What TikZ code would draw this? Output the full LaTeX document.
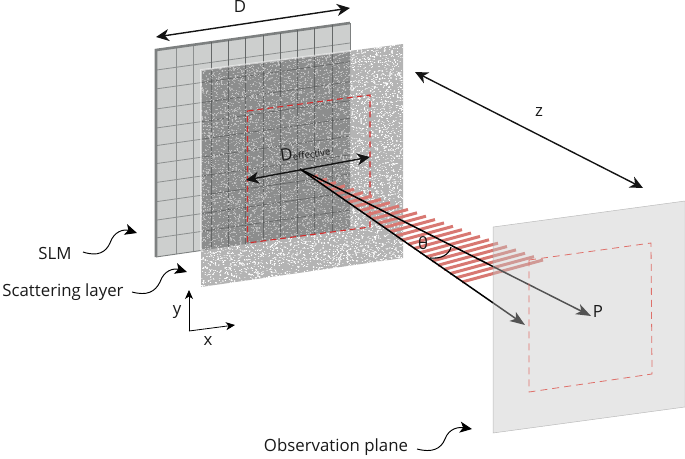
\documentclass[tikz,border=0pt]{standalone}
\usepackage{fontspec}
\setmainfont{Open Sans}
\usetikzlibrary{arrows.meta,calc}
\definecolor{slmfill}{RGB}{205,207,206}
\definecolor{slmgrid}{RGB}{140,143,143}
\definecolor{slmedge}{RGB}{125,128,128}
\definecolor{layergray}{RGB}{180,180,180}
\definecolor{overlapgray}{RGB}{140,141,141}
\definecolor{speckgray}{RGB}{200,200,200}
\definecolor{overgrid}{RGB}{70,72,72}
\definecolor{redline}{RGB}{212,42,42}
\definecolor{stripe}{RGB}{216,120,114}
\definecolor{planeedge}{RGB}{150,150,150}
\definecolor{planered}{RGB}{222,112,106}
\tikzset{
  bigarrow/.style={line width=1.4pt,black!92,{Stealth[length=13pt,width=12pt,inset=4pt]}-{Stealth[length=13pt,width=12pt,inset=4pt]}},
  rayarrow/.style={line width=1.5pt,black,-{Stealth[length=15pt,width=11pt,inset=4pt]}},
  wiggle/.style={line width=0.95pt,black,-{Stealth[length=12pt,width=11pt,inset=3pt]}},
  axisarrow/.style={line width=0.8pt,black,-{Stealth[length=9pt,width=8pt,inset=2.5pt]}},
  lbl/.style={inner sep=0pt,font=\fontsize{16.8}{19}\selectfont,text=black!90},
  reddash/.style={redline,line width=1.1pt,dash pattern=on 6pt off 4pt},
  planedash/.style={planered,line width=0.8pt,dash pattern=on 7pt off 5pt}
}
% #1 colour, #2 seed, #3 count, #4 dot size, #5 = 1: only inside the SLM overlap
\newcommand{\specklayer}[5]{%
  \begin{scope}[draw=#1,line cap=round,line width=#4]
  \pgfmathsetseed{#2}%
  \foreach \i in {1,...,#3}{%
    \pgfmathsetmacro\su{rnd}%
    \pgfmathsetmacro\sv{rnd}%
    \pgfmathsetmacro\sx{201+202*\su}%
    \pgfmathsetmacro\sy{70-26*\su+217*\sv}%
    \pgfmathtruncatemacro\keep{(#5==0 || (\sx<350 && \sy<257-0.1443*(\sx-156)))?1:0}%
    \ifnum\keep=1
      \pgfpathmoveto{\pgfpointxy{\sx}{\sy}}%
      \pgfpathlineto{\pgfpointxy{\sx+0.2}{\sy}}%
      \pgfusepath{stroke}%
    \fi
  }%
  \end{scope}%
}
\begin{document}
\begin{tikzpicture}[x=1pt,y=-1pt]
\useasboundingbox (0,0) rectangle (685,458);
% named corners
\coordinate (sTL) at (156,50); \coordinate (sTR) at (350,23);
\coordinate (sBR) at (350,229); \coordinate (sBL) at (156,257);
\coordinate (lTL) at (201,70); \coordinate (lTR) at (403,44);
\coordinate (lBR) at (403,258); \coordinate (lBL) at (201,287);
\coordinate (oTR) at (350,51); \coordinate (oBL) at (201,250.5);
\coordinate (apex) at (300,169);
\coordinate (lowEnd) at (462,282); \coordinate (upEnd) at (543,260);
\coordinate (lowTip) at (525,325); \coordinate (upTip) at (591,316);
% SLM
\fill[slmfill] (sTL)--(sTR)--(sBR)--(sBL)--cycle;
\foreach \t in {0.103,0.193,0.283,0.373,0.463,0.553,0.640,0.728,0.818,0.908}{
  \draw[slmgrid,line width=0.8pt] ($(sTL)!\t!(sTR)$)--($(sBL)!\t!(sBR)$);
}
\foreach \t in {0.097,0.188,0.285,0.377,0.462,0.549,0.640,0.733,0.822,0.908}{
  \draw[slmgrid,line width=0.8pt] ($(sTL)!\t!(sBL)$)--($(sTR)!\t!(sBR)$);
}
\draw[slmedge,line width=0.9pt] (sBL)--(sBR);
\draw[slmedge,line width=0.9pt] (sTR)--(sBR);
\draw[slmedge,line width=2.6pt] (sBL)--(sTL)--(sTR);
% scattering layer
\fill[layergray] (lTL)--(lTR)--(lBR)--(lBL)--cycle;
\specklayer{white}{7}{6500}{0.85pt}{0}
\specklayer{white}{11}{1300}{1.5pt}{0}
\fill[overlapgray] (lTL)--(oTR)--(sBR)--(oBL)--cycle;
\foreach \t in {0.283,0.373,0.463,0.553,0.640,0.728,0.818,0.908}{
  \draw[overgrid,line width=0.7pt,opacity=.55] ($(sTL)!\t!(sTR)$)--($(sBL)!\t!(sBR)$);
}
\begin{scope}
  \clip (lTL)--(oTR)--(sBR)--(oBL)--cycle;
  \foreach \t in {0.097,0.188,0.285,0.377,0.462,0.549,0.640,0.733,0.822,0.908}{
    \draw[overgrid,line width=0.7pt,opacity=.55] ($(sTL)!\t!(sBL)$)--($(sTR)!\t!(sBR)$);
  }
\end{scope}
\specklayer{speckgray}{7}{6500}{0.85pt}{1}
\specklayer{speckgray}{11}{1300}{1.5pt}{1}
\draw[white,opacity=.55,line width=1.6pt] (oBL)--(lTL)--(oTR);
% red frame on layer
\draw[reddash] (247.5,111)--(370,95)--(370,227)--(247.5,243)--cycle;
% beam stripes
\foreach \k in {2,...,27}{
  \pgfmathsetmacro\t{\k/27}
  \draw[stripe,line width=3pt] ($(apex)!\t!(lowEnd)$)--($(apex)!\t!(upEnd)$);
}
% rays
\draw[rayarrow] (apex)--(lowTip);
\draw[rayarrow] (apex)--(upTip);
% observation plane over beam
\fill[black!22,fill opacity=.42] (493,227)--(685,201)--(685,407)--(493,433)--cycle;
\draw[planeedge,line width=0.5pt,opacity=.6] (493,227)--(685,201)--(685,407)--(493,433)--cycle;
\draw[planedash] (529,260)--(651,243)--(652,374)--(529,392)--cycle;
% angle
\draw[black,line width=1.1pt] (430,258) .. controls (441,259) and (449,255) .. (451,247);
\node[lbl] (theta) at (423,243) {θ};
% labels
\node[lbl] (Dlabel) at (240,6.5) {D};
\coordinate (DA) at (156,37); \coordinate (DB) at (350,8);
\draw[bigarrow] (DA)--(DB);
\node[lbl] (zlabel) at (539,112) {z};
\coordinate (zA) at (415,72); \coordinate (zB) at (643,188);
\draw[bigarrow] (zA)--(zB);
\coordinate (eA) at (246,180); \coordinate (eB) at (370,157);
\draw[bigarrow] (eA)--(eB);
\node[lbl,rotate=8,font=\fontsize{17}{19}\selectfont] (Deff) at (305,152.5) {D\raisebox{-0.5pt}{\fontsize{9.5}{11}\selectfont effective}};
\node[lbl] (Plabel) at (598,311) {P};
\node[lbl] (slmlabel) at (55,253) {SLM};
\coordinate (slmEnd) at (137,233);
\draw[wiggle] (83,252) .. controls (98,257) and (106,252) .. (110,243) .. controls (114,231) and (124,229) .. (slmEnd);
\node[lbl] (scatlabel) at (63,292) {Scattering layer};
\coordinate (scatEnd) at (187,272);
\draw[wiggle] (132,292) .. controls (147,296) and (155,292) .. (160,282) .. controls (164,270) and (174,268) .. (scatEnd);
\node[lbl] (obslabel) at (336,447) {Observation plane};
\coordinate (obsEnd) at (472,429);
\draw[wiggle] (417,449) .. controls (432,453) and (441,449) .. (445,439) .. controls (449,428) and (459,427) .. (obsEnd);
% axes
\coordinate (axO) at (189,331); \coordinate (axY) at (189,290); \coordinate (axX) at (235,325);
\draw[axisarrow] (axO)--(axY);
\draw[axisarrow] (axO)--(axX);
\node[lbl] (ylabel) at (177,312) {y};
\node[lbl] (xlabel) at (208,341) {x};
\end{tikzpicture}
\end{document}
